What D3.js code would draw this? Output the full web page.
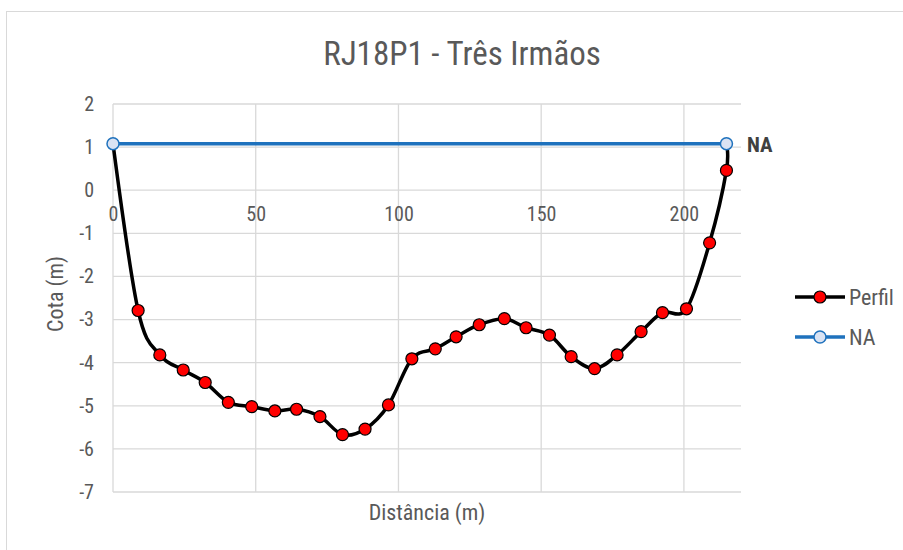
<!DOCTYPE html>
<meta charset="utf-8">
<style>
body { margin: 0; background: #fff; }
svg text { font-family: "Liberation Sans Narrow", "Roboto Condensed", "Arial Narrow", "Liberation Sans", sans-serif; }
.grid line { stroke: #d9d9d9; stroke-width: 1.3px; }
</style>
<body>
<div id="chart"></div>
<script src="https://cdnjs.cloudflare.com/ajax/libs/d3/7.8.5/d3.min.js"></script>
<script>
// perfil: distancia (m) e cota (m)
var perfilDist = [0, 8.8, 16.4, 24.6, 32.3, 40.4, 48.6, 56.7, 64.3, 72.5, 80.4, 88.3, 96.5,
  104.7, 112.9, 120.2, 128.3, 137.1, 144.7, 152.9, 160.5, 168.7, 176.6, 185.0, 192.5,
  200.9, 209.0, 214.9, 214.9];
var perfilCota = [1.08, -2.79, -3.82, -4.17, -4.46, -4.92, -5.02, -5.12, -5.08, -5.25, -5.67,
  -5.54, -4.98, -3.91, -3.68, -3.40, -3.12, -2.98, -3.19, -3.36, -3.86, -4.14, -3.82, -3.28,
  -2.84, -2.75, -1.22, 0.46, 1.08];
// nivel d'agua
var naDist = [0, 214.9];
var naCota = [1.08, 1.08];

var xTicks = [0, 50, 100, 150, 200];
var yTicks = [2, 1, 0, -1, -2, -3, -4, -5, -6, -7];

var W = 903, H = 550;
var svg = d3.select("#chart").append("svg").attr("width", W).attr("height", H);

// moldura
svg.append("rect").attr("x", 6.5).attr("y", 11.5).attr("width", W).attr("height", H)
  .attr("fill", "none").attr("stroke", "#d9d9d9").attr("stroke-width", 1);

var x = d3.scaleLinear().domain([0, 220]).range([113, 741]);
var y = d3.scaleLinear().domain([-7, 2]).range([492, 104]);

var grid = svg.append("g").attr("class", "grid");
grid.selectAll("line.h").data(yTicks).enter().append("line")
  .attr("x1", x(0)).attr("x2", x(220))
  .attr("y1", function(d) { return y(d); }).attr("y2", function(d) { return y(d); });
grid.selectAll("line.v").data(xTicks).enter().append("line")
  .attr("y1", y(2)).attr("y2", y(-7))
  .attr("x1", function(d) { return x(d); }).attr("x2", function(d) { return x(d); });

var fmt = function(d) { return String(d); };

// eixo y
var yAxis = svg.append("g").attr("transform", "translate(" + (x(0) - 19) + ",0)")
  .call(d3.axisLeft(y).tickValues(yTicks).tickFormat(fmt).tickSize(0).tickPadding(0));
yAxis.select(".domain").remove();
yAxis.selectAll("text").attr("font-size", 20).attr("fill", "#595959");

// eixo x (cruza em 0)
var xAxis = svg.append("g").attr("transform", "translate(0," + (y(0) + 17) + ")")
  .call(d3.axisBottom(x).tickValues(xTicks).tickFormat(fmt).tickSize(0).tickPadding(0));
xAxis.select(".domain").remove();
xAxis.selectAll("text").attr("font-size", 20).attr("fill", "#595959");

svg.append("text").attr("x", 462).attr("y", 65).attr("text-anchor", "middle")
  .attr("font-size", 33).attr("fill", "#595959").text("RJ18P1 - Três Irmãos");
svg.append("text").attr("x", 427).attr("y", 520).attr("text-anchor", "middle")
  .attr("font-size", 22).attr("fill", "#595959").text("Distância (m)");
svg.append("text").attr("transform", "translate(63,294) rotate(-90)").attr("text-anchor", "middle")
  .attr("font-size", 22).attr("fill", "#595959").text("Cota (m)");

var perfil = perfilDist.map(function(d, i) { return [d, perfilCota[i]]; });
var na = naDist.map(function(d, i) { return [d, naCota[i]]; });

var line = d3.line().x(function(d) { return x(d[0]); }).y(function(d) { return y(d[1]); })
  .curve(d3.curveCatmullRom.alpha(0));

svg.append("path").datum(na).attr("d", d3.line().x(function(d) { return x(d[0]); }).y(function(d) { return y(d[1]); }))
  .attr("fill", "none").attr("stroke", "#1f72bd").attr("stroke-width", 3.5);

svg.append("path").datum(perfil).attr("d", line)
  .attr("fill", "none").attr("stroke", "#000").attr("stroke-width", 3.5);

svg.selectAll("circle.p").data(perfil.slice(1, -1)).enter().append("circle")
  .attr("cx", function(d) { return x(d[0]); }).attr("cy", function(d) { return y(d[1]); })
  .attr("r", 6).attr("fill", "#ff0000").attr("stroke", "#000").attr("stroke-width", 1.2);

svg.selectAll("circle.n").data(na).enter().append("circle")
  .attr("cx", function(d) { return x(d[0]); }).attr("cy", function(d) { return y(d[1]); })
  .attr("r", 6).attr("fill", "#dae3f3").attr("stroke", "#1f72bd").attr("stroke-width", 1.5);

svg.append("text").attr("x", 747).attr("y", y(1.08) + 8).attr("font-size", 21)
  .attr("font-weight", "bold").attr("fill", "#404040").text("NA");

// legenda
var leg = svg.append("g");
leg.append("line").attr("x1", 795).attr("x2", 845).attr("y1", 297).attr("y2", 297)
  .attr("stroke", "#000").attr("stroke-width", 3.5);
leg.append("circle").attr("cx", 820).attr("cy", 297).attr("r", 6)
  .attr("fill", "#ff0000").attr("stroke", "#000").attr("stroke-width", 1.2);
leg.append("text").attr("x", 849).attr("y", 305).attr("font-size", 22).attr("fill", "#595959").text("Perfil");
leg.append("line").attr("x1", 795).attr("x2", 845).attr("y1", 337).attr("y2", 337)
  .attr("stroke", "#1f72bd").attr("stroke-width", 3.5);
leg.append("circle").attr("cx", 820).attr("cy", 337).attr("r", 6)
  .attr("fill", "#dae3f3").attr("stroke", "#1f72bd").attr("stroke-width", 1.5);
leg.append("text").attr("x", 849).attr("y", 345).attr("font-size", 22).attr("fill", "#595959").text("NA");
</script>
</body>
